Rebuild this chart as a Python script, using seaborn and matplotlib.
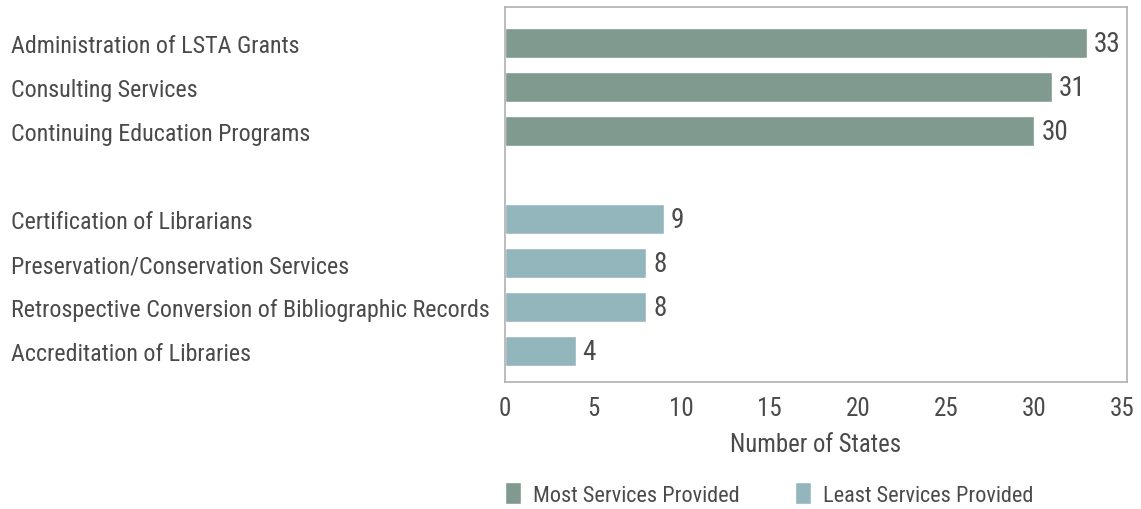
import pandas as pd
import matplotlib
matplotlib.use("Agg")
import matplotlib.pyplot as plt
from matplotlib.patches import Patch
import seaborn as sns

# data
most_services = ["Administration of LSTA Grants", "Consulting Services",
                 "Continuing Education Programs"]
most_counts = [33, 31, 30]
least_services = ["Certification of Librarians", "Preservation/Conservation Services",
                  "Retrospective Conversion of Bibliographic Records",
                  "Accreditation of Libraries"]
least_counts = [9, 8, 8, 4]
groups = ["Most Services Provided", "Least Services Provided"]
colors = ["#809a8f", "#93b6bc"]

df = pd.DataFrame({
    "service": most_services + least_services,
    "states": most_counts + least_counts,
    "group": [groups[0]] * len(most_services) + [groups[1]] * len(least_services),
})
order = most_services + [" "] + least_services

sns.set_style("white")
plt.rcParams["font.family"] = ["Liberation Sans Narrow", "Roboto Condensed",
                               "DejaVu Sans Condensed", "DejaVu Sans"]
plt.rcParams["font.stretch"] = "condensed"
txt = "#4a4a4a"

fig = plt.figure(figsize=(11.41, 5.10), dpi=100)
ax = fig.add_axes([505 / 1141, 1 - 383 / 510, (1127 - 505) / 1141, (383 - 8) / 510])

sns.barplot(data=df, x="states", y="service", hue="group", order=order,
            hue_order=groups, palette=colors, dodge=False, width=0.68,
            saturation=1, legend=False, ax=ax)

for cont in ax.containers:
    ax.bar_label(cont, padding=5, fontsize=19.5, color=txt)

ax.set_xlim(0, 35.25)
ax.set_ylim(7.70, -0.82)
ax.set_xticks(range(0, 40, 5))
ax.tick_params(axis="x", length=0, pad=10, labelsize=18, labelcolor=txt)
ax.tick_params(axis="y", length=0, pad=356, labelsize=17.3, labelcolor=txt)
for lab in ax.get_yticklabels():
    lab.set_horizontalalignment("left")
ax.set_ylabel("")
ax.set_xlabel("Number of States", fontsize=17.8, color=txt, labelpad=9)
for s in ax.spines.values():
    s.set_visible(True)
    s.set_color("#b0b0b0")
    s.set_linewidth(1.2)

handles = [Patch(facecolor=c, label=g) for c, g in zip(colors, groups)]
fig.legend(handles=handles, loc="center left", bbox_to_anchor=(505 / 1141, 1 - 495 / 510),
           ncol=2, frameon=False, fontsize=16, handlelength=0.72, handleheight=1.08,
           handletextpad=0.54, columnspacing=2.5, borderpad=0, borderaxespad=0,
           labelcolor=txt)

fig.savefig("out.png", dpi=100)
